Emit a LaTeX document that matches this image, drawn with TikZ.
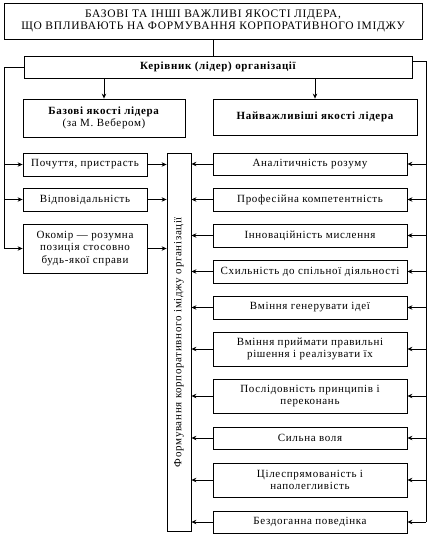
\documentclass[tikz,border=0pt]{standalone}
\usepackage{fontspec}
\setmainfont{Liberation Serif}[LetterSpace=6]
\usetikzlibrary{arrows.meta,calc}
\begin{document}
\begin{tikzpicture}[x=1pt,y=-1pt, font=\fontsize{11}{12.5}\selectfont,
  box/.style={draw, line width=0.8pt, inner sep=0pt, align=center},
  ln/.style={line width=0.8pt},
  arr/.style={line width=0.8pt, -{Stealth[length=5pt,width=4.5pt]}}]
\useasboundingbox (0,0) rectangle (429,534);
% top
\node[box, minimum width=418pt, minimum height=36pt, font=\fontsize{11.5}{12.5}\selectfont] (title) at (213,21) {БАЗОВІ ТА ІНШІ ВАЖЛИВІ ЯКОСТІ ЛІДЕРА,\\ЩО ВПЛИВАЮТЬ НА ФОРМУВАННЯ КОРПОРАТИВНОГО ІМІДЖУ};
\node[box, minimum width=388pt, minimum height=22pt, font=\fontsize{11}{12.5}\selectfont\bfseries] (ker) at (218,67) {Керівник (лідер) організації};
\node[box, minimum width=162pt, minimum height=38pt] (baz) at (104,118) {\textbf{Базові якості лідера}\\(за М. Вебером)};
\node[box, minimum width=204pt, minimum height=36pt, font=\fontsize{11}{12.5}\selectfont\bfseries] (naj) at (315,117) {Найважливіші якості лідера};
% left column
\node[box, minimum width=124pt, minimum height=23pt] (p1) at (85,164.5) {Почуття, пристрасть};
\node[box, minimum width=124pt, minimum height=23pt] (p2) at (85,199.5) {Відповідальність};
\node[box, minimum width=124pt, minimum height=49pt] (p3) at (85,248.5) {Окомір — розумна\\позиція стосовно\\будь-якої справи};
% vertical
\node[box, rotate=90, minimum width=378pt, minimum height=24pt] (vert) at (179,342) {Формування корпоративного іміджу організації};
% right column
\node[box, minimum width=194pt, minimum height=22pt] (r1) at (310,164) {Аналітичність розуму};
\node[box, minimum width=194pt, minimum height=23pt] (r2) at (310,199.5) {Професійна компетентність};
\node[box, minimum width=194pt, minimum height=23pt] (r3) at (310,235.5) {Інноваційність мислення};
\node[box, minimum width=194pt, minimum height=23pt] (r4) at (310,271.5) {Схильність до спільної діяльності};
\node[box, minimum width=194pt, minimum height=23pt] (r5) at (310,307.5) {Вміння генерувати ідеї};
\node[box, minimum width=194pt, minimum height=34pt] (r6) at (310,349) {Вміння приймати правильні\\рішення і реалізувати їх};
\node[box, minimum width=194pt, minimum height=34pt] (r7) at (310,396) {Послідовність принципів і\\переконань};
\node[box, minimum width=194pt, minimum height=22pt] (r8) at (310,438) {Сильна воля};
\node[box, minimum width=194pt, minimum height=34pt] (r9) at (310,480) {Цілеспрямованість і\\наполегливість};
\node[box, minimum width=194pt, minimum height=22pt] (r10) at (310,522) {Бездоганна поведінка};
% connectors
\draw[ln] (title.south) -- (title.south |- ker.north);
\draw[arr] (baz.north |- ker.south) -- (baz.north);
\draw[arr] (naj.north |- ker.south) -- (naj.north);
\coordinate (LT) at (4,67);
\coordinate (RT) at (426,61);
\draw[ln] (ker.west) -- (LT) -- (LT |- p3.west);
\draw[ln] (RT -| ker.east) -- (RT) -- (RT |- r10.east);
\foreach \n in {p1,p2,p3}{
  \draw[arr] (LT |- \n.west) -- (\n.west);
  \draw[arr] (\n.east) -- (\n.east -| vert.north);
}
\foreach \n in {r1,r2,r3,r4,r5,r6,r7,r8,r9,r10}{
  \draw[arr] (RT |- \n.east) -- (\n.east);
  \draw[arr] (\n.west) -- (\n.west -| vert.south);
}
\end{tikzpicture}
\end{document}
